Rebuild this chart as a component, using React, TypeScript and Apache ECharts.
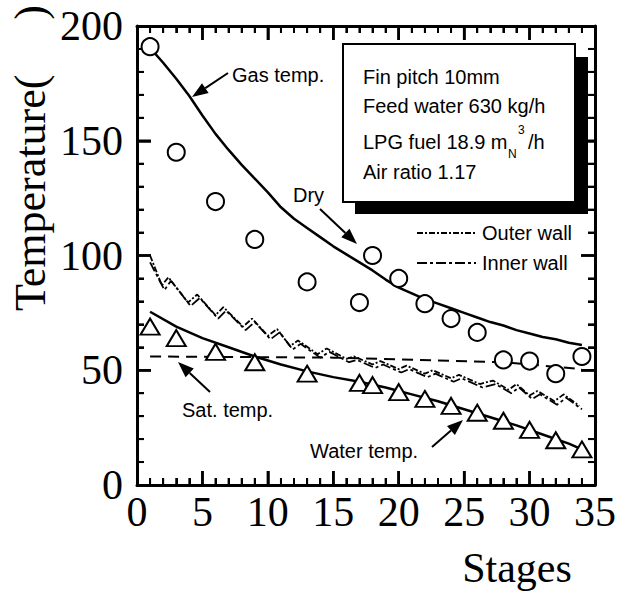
import React, { useEffect, useRef } from "react";
import * as echarts from "echarts";

const dryStages = [1, 3, 6, 9, 13, 17, 18, 20, 22, 24, 26, 28, 30, 32, 34];
const dryTemp = [191, 145, 123.5, 107, 88.5, 79.5, 100, 90, 79, 72.5, 66.5, 54.5, 54, 48.5, 56];

const waterStages = [1, 3, 6, 9, 13, 17, 18, 20, 22, 24, 26, 28, 30, 32, 34];
const waterTemp = [69, 64, 58, 53.5, 48.5, 44.5, 43.5, 40.5, 37.5, 34.5, 31.5, 28, 24, 19.5, 15.5];

const gasLineStages = [1, 2, 3, 4, 5, 6, 7, 8, 9, 10, 11, 12, 13, 14, 15, 16, 17, 18, 19, 20, 21, 22, 23, 24, 25, 26, 27, 28, 29, 30, 31, 32, 33, 34];
const gasLineTemp = [190.5, 184, 177, 169.5, 161, 153, 146, 139.5, 133.5, 127.5, 121, 116, 112, 108, 104, 100.5, 97, 93.5, 89.5, 86, 83.5, 81, 79, 77, 75, 73, 71, 69.5, 67.5, 66, 64.5, 63.5, 62, 61];

const waterLineStages = [1, 3, 5, 7, 9, 11, 13, 15, 17, 19, 21, 23, 25, 27, 29, 31, 33, 34];
const waterLineTemp = [75.5, 69, 64, 60, 56, 52.5, 49.5, 47, 45, 42.5, 39.5, 36.5, 33, 29.5, 26, 22, 18, 15.5];

const satStages = [1, 15, 28, 34];
const satTemp = [56, 55.5, 53.5, 50.5];

const outerStages = [1, 1.9, 2.4, 3.9, 4.6, 6, 6.6, 8.1, 8.8, 10, 10.7, 11.7, 12.3, 13.8, 14.5, 16, 16.6, 18, 18.6, 20, 20.6, 22, 22.6, 24, 24.6, 26.2, 27.2, 28.4, 29, 30, 30.6, 31.9, 32.6, 33.8];
const outerTemp = [100, 87, 90.5, 79.5, 83, 74, 77.5, 69, 72.5, 65, 68, 60.5, 63, 57, 59.5, 55, 56, 52.5, 54, 50.5, 52, 48.5, 50, 46.5, 48, 44, 45.5, 41.5, 44, 39, 41, 36.5, 39.5, 34.5];

const innerStages = [1, 2.1, 2.6, 4.1, 4.8, 6.2, 6.8, 8.3, 9, 10.2, 10.9, 11.9, 12.5, 14, 14.7, 16.2, 16.8, 18.2, 18.8, 20.2, 20.8, 22.2, 22.8, 24.2, 24.8, 26.4, 27.4, 28.6, 29.2, 30.2, 30.8, 32.1, 32.8, 34];
const innerTemp = [97, 85, 89, 78, 81.5, 72.5, 76, 67.5, 71, 63.5, 66.5, 59, 61.5, 55.5, 58, 53.5, 54.5, 51, 52.5, 49, 50.5, 47, 48.5, 45, 46.5, 42.5, 44, 40, 42.5, 37.5, 39.5, 35, 38, 33];

const infoLines = ["Fin pitch 10mm", "Feed water 630 kg/h", "Air ratio 1.17"];

const X_MAX = 35;
const Y_MAX = 200;
const X_MAJOR = 5;
const Y_MAJOR = 50;
const X_MINOR = 1;
const Y_MINOR = 10;

const W = 619;
const H = 596;
const GRID = { left: 137, right: 22, top: 26, bottom: 111 };

const pair = (xs: number[], ys: number[]) => xs.map((x, i) => [x, ys[i]]);

const SERIF = '"Liberation Serif", "Times New Roman", Times, serif';
const SANS = '"Liberation Sans", Arial, Helvetica, sans-serif';

function arrow(x1: number, y1: number, x2: number, y2: number) {
  const dx = x2 - x1;
  const dy = y2 - y1;
  const len = Math.sqrt(dx * dx + dy * dy);
  const ux = dx / len;
  const uy = dy / len;
  const hl = 16;
  const hw = 6;
  const bx = x2 - ux * hl;
  const by = y2 - uy * hl;
  return [
    {
      type: "line",
      shape: { x1, y1, x2: bx, y2: by },
      style: { stroke: "#000", lineWidth: 2 },
    },
    {
      type: "polygon",
      shape: {
        points: [
          [x2, y2],
          [bx - uy * hw, by + ux * hw],
          [bx + uy * hw, by - ux * hw],
        ],
      },
      style: { fill: "#000" },
    },
  ];
}

function sansText(text: string, x: number, y: number, size = 20, align = "left") {
  return {
    type: "text",
    x,
    y,
    style: { text, fontFamily: SANS, fontSize: size, fill: "#000", align, verticalAlign: "middle" },
  };
}

function makeAxis(pos: string, showLabel: boolean, isX: boolean) {
  const ax: any = {
    type: "value",
    position: pos,
    min: 0,
    max: isX ? X_MAX : Y_MAX,
    interval: isX ? X_MAJOR : Y_MAJOR,
    axisLine: { show: true, onZero: false, lineStyle: { color: "#000", width: 3 } },
    axisTick: { show: true, inside: true, length: 14, lineStyle: { color: "#000", width: 2.5 } },
    minorTick: { show: true, splitNumber: 5, length: 7, lineStyle: { color: "#000", width: 2 } },
    splitLine: { show: false },
    minorSplitLine: { show: false },
    axisLabel: showLabel
      ? { show: true, color: "#000", fontFamily: SERIF, fontSize: 42, margin: isX ? 6 : 14 }
      : { show: false },
  };
  return ax;
}

// Tick marks drawn as short segments on the chart's own axes (lengths in pixels converted to data units)
function tickSeries() {
  const dataPerPxX = X_MAX / (W - GRID.left - GRID.right);
  const dataPerPxY = Y_MAX / (H - GRID.top - GRID.bottom);
  const out: any[] = [];
  const seg = (data: number[][], major: boolean) => ({
    type: "line",
    data,
    symbol: "none",
    silent: true,
    clip: false,
    z: 3,
    lineStyle: { color: "#000", width: major ? 2.5 : 2 },
    tooltip: { show: false },
  });
  for (let v = X_MINOR; v < X_MAX; v += X_MINOR) {
    const major = v % X_MAJOR === 0;
    const L = (major ? 14 : 7) * dataPerPxY;
    out.push(seg([[v, 0], [v, L]], major));
    out.push(seg([[v, Y_MAX], [v, Y_MAX - L]], major));
  }
  for (let v = Y_MINOR; v < Y_MAX; v += Y_MINOR) {
    const major = v % Y_MAJOR === 0;
    const L = (major ? 14 : 7) * dataPerPxX;
    out.push(seg([[0, v], [L, v]], major));
    out.push(seg([[X_MAX, v], [X_MAX - L, v]], major));
  }
  return out;
}

export default function App() {
  const ref = useRef<HTMLDivElement>(null);
  useEffect(() => {
    if (!ref.current) return;
    const chart = echarts.init(ref.current, null, { renderer: "svg" });
    const lineStyleBase = { color: "#000" };
    chart.setOption({
      animation: false,
      grid: GRID,
      xAxis: [makeAxis("bottom", true, true), makeAxis("top", false, true)],
      yAxis: [makeAxis("left", true, false), makeAxis("right", false, false)],
      series: [
        ...tickSeries(),
        {
          name: "Gas temp.",
          type: "line",
          data: pair(gasLineStages, gasLineTemp),
          symbol: "none",
          lineStyle: { ...lineStyleBase, width: 2.5 },
          z: 2,
        },
        {
          name: "Water temp. line",
          type: "line",
          data: pair(waterLineStages, waterLineTemp),
          symbol: "none",
          lineStyle: { ...lineStyleBase, width: 2.5 },
          z: 2,
        },
        {
          name: "Sat. temp.",
          type: "line",
          data: pair(satStages, satTemp),
          symbol: "none",
          lineStyle: { ...lineStyleBase, width: 2, type: [11, 7] },
          z: 2,
        },
        {
          name: "Outer wall",
          type: "line",
          data: pair(outerStages, outerTemp),
          symbol: "none",
          lineStyle: { ...lineStyleBase, width: 1.8, type: [6, 2, 2, 2] },
          z: 2,
        },
        {
          name: "Inner wall",
          type: "line",
          data: pair(innerStages, innerTemp),
          symbol: "none",
          lineStyle: { ...lineStyleBase, width: 1.8, type: [10, 3, 3, 3] },
          z: 2,
        },
        {
          name: "Dry",
          type: "scatter",
          data: pair(dryStages, dryTemp),
          symbol: "circle",
          symbolSize: 17,
          itemStyle: { color: "#fff", borderColor: "#000", borderWidth: 2, opacity: 1 },
          z: 4,
        },
        {
          name: "Water temp.",
          type: "scatter",
          data: pair(waterStages, waterTemp),
          symbol: "triangle",
          symbolSize: [19, 16],
          itemStyle: { color: "#fff", borderColor: "#000", borderWidth: 2, opacity: 1 },
          z: 4,
        },
      ],
      graphic: [
        { type: "rect", shape: { x: 355, y: 57, width: 233, height: 157 }, style: { fill: "#000" }, z: 10 },
        {
          type: "rect",
          shape: { x: 343, y: 44, width: 232, height: 158 },
          style: { fill: "#fff", stroke: "#000", lineWidth: 2 },
          z: 11,
        },
        { ...sansText(infoLines[0], 363, 77), z: 12 },
        { ...sansText(infoLines[1], 363, 106), z: 12 },
        { ...sansText("LPG fuel 18.9 m", 363, 142), z: 12 },
        { ...sansText("N", 508, 154, 12), z: 12 },
        { ...sansText("3", 518, 130, 12), z: 12 },
        { ...sansText("/h", 528, 142), z: 12 },
        { ...sansText(infoLines[2], 363, 172), z: 12 },
        {
          type: "line",
          shape: { x1: 417, y1: 233, x2: 476, y2: 233 },
          style: { stroke: "#000", lineWidth: 1.8, lineDash: [6, 2, 2, 2] },
          z: 12,
        },
        {
          type: "line",
          shape: { x1: 417, y1: 263, x2: 476, y2: 263 },
          style: { stroke: "#000", lineWidth: 1.8, lineDash: [10, 3, 3, 3] },
          z: 12,
        },
        { ...sansText("Outer wall", 482, 233), z: 12 },
        { ...sansText("Inner wall", 482, 263), z: 12 },
        { ...sansText("Gas temp.", 232, 75), z: 12 },
        { ...sansText("Dry", 293, 195), z: 12 },
        { ...sansText("Sat. temp.", 182, 410), z: 12 },
        { ...sansText("Water temp.", 310, 451), z: 12 },
        ...[
          ...arrow(228, 73, 192, 97),
          ...arrow(320, 209, 357, 244),
          ...arrow(210, 392, 178, 362),
          ...arrow(432, 447, 463, 420),
        ].map((e) => ({ ...e, z: 12 })),
        {
          type: "text",
          x: 30,
          y: 158,
          rotation: Math.PI / 2,
          style: {
            text: "Temperature(\u2003 )",
            fontFamily: SERIF,
            fontSize: 44,
            fill: "#000",
            align: "center",
            verticalAlign: "middle",
          },
          z: 12,
        },
        {
          type: "text",
          x: 517,
          y: 568,
          style: {
            text: "Stages",
            fontFamily: SERIF,
            fontSize: 42,
            fill: "#000",
            align: "center",
            verticalAlign: "middle",
          },
          z: 12,
        },
      ],
    });
    return () => chart.dispose();
  }, []);
  return (
    <div
      ref={ref}
      style={{ position: "fixed", left: 0, top: 0, width: 619, height: 596, background: "#fff" }}
    />
  );
}
